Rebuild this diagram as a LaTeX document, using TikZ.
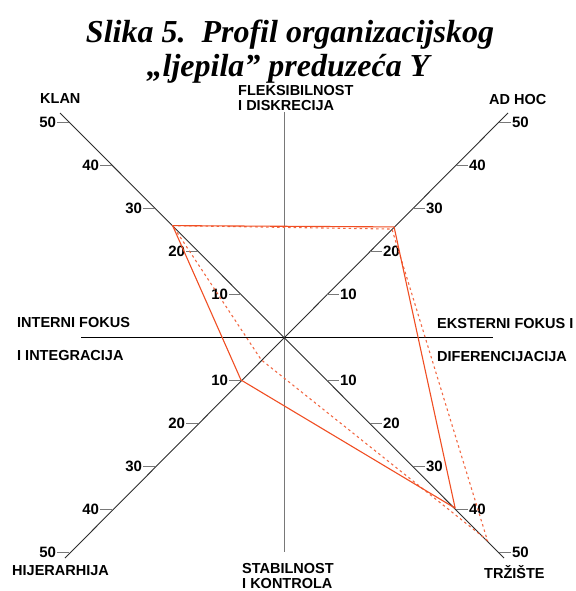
\documentclass[tikz,border=0pt]{standalone}
\usepackage{fontspec}
\setmainfont{Liberation Serif}
\setsansfont{Liberation Sans}
\usetikzlibrary{calc}
\definecolor{prof}{RGB}{240,78,35}
\definecolor{axisdark}{RGB}{45,45,45}
\definecolor{axisgray}{RGB}{120,120,120}
\begin{document}
\begin{tikzpicture}[x=1pt,y=-1pt,
  lbl/.style={font=\fontsize{14.5}{15}\selectfont\sffamily\bfseries,inner sep=0pt},
  num/.style={font=\fontsize{15}{16}\selectfont\sffamily\bfseries,inner sep=0.6pt},
  titlefont/.style={font=\fontsize{32}{34}\selectfont\bfseries\itshape,inner sep=0pt},
  diag/.style={draw=axisdark,line width=0.9pt},
  tickline/.style={draw=axisgray,line width=0.9pt},
  solidprof/.style={draw=prof,line width=1.1pt,line join=round},
  dashprof/.style={draw=prof!85!white,line width=1.1pt,dash pattern=on 2.5pt off 3pt}]
\useasboundingbox (0,0) rectangle (575,591);
\def\s{4.3}
\coordinate (C) at (284,337);
% axes
\coordinate (klanEnd) at ($(C)+(-224,-224)$);
\coordinate (adhocEnd) at ($(C)+(224,-224)$);
\coordinate (trzEnd) at ($(C)+(220,221)$);
\coordinate (hijEnd) at ($(C)+(-219,221)$);
\coordinate (hL) at (81,337);
\coordinate (hR) at (493,337);
\coordinate (vT) at (284,112);
\coordinate (vB) at (284,552);
\draw[draw=axisgray,line width=1pt] (vT) -- (vB);
\draw[draw=black,line width=0.9pt] (hL) -- (hR);
\draw[diag] (klanEnd) -- (trzEnd);
\draw[diag] (hijEnd) -- (adhocEnd);
% ticks
\foreach \v in {10,20,30,40,50}{
  \draw[tickline] ($(C)+({-\s*\v},{-\s*\v})$) -- ++(-12,0) node[num,anchor=east] (k\v) {\v};
  \draw[tickline] ($(C)+({\s*\v},{-\s*\v})$) -- ++(12,0) node[num,anchor=west] (a\v) {\v};
  \draw[tickline] ($(C)+({\s*\v},{\s*\v})$) -- ++(12,0) node[num,anchor=west] (t\v) {\v};
  \draw[tickline] ($(C)+({-\s*\v},{\s*\v})$) -- ++(-12,0) node[num,anchor=east] (h\v) {\v};
}
% profile points
\coordinate (sK) at ($(C)+({-\s*25.9},{-\s*25.9})$);
\coordinate (sA) at ($(C)+({\s*25.6},{-\s*25.6})$);
\coordinate (sT) at ($(C)+({\s*39.8},{\s*39.8})$);
\coordinate (sH) at ($(C)+({-\s*10},{\s*10})$);
\coordinate (dK) at ($(C)+({-\s*25.9},{-\s*25.9})$);
\coordinate (dA) at ($(C)+({\s*25.1},{-\s*25.1})$);
\coordinate (dT) at ($(C)+({\s*47.3},{\s*47.3})$);
\coordinate (dH) at ($(C)+({-\s*5.3},{\s*5.3})$);
\draw[dashprof] (dK) -- (dA) -- (dT) -- (dH) -- cycle;
\draw[solidprof] (sK) -- (sA) -- (sT) -- (sH) -- cycle;
% title
\node[titlefont,anchor=base] (title1) at (290,43) {Slika 5.\ \ Profil organizacijskog};
\node[titlefont,anchor=base] (title2) at (288,77) {„ljepila” preduzeća Y};
% labels
\node[lbl,anchor=base west] (klan) at (40,103) {KLAN};
\node[lbl,anchor=base west] (adhoc) at (489,105) {AD HOC};
\node[lbl,anchor=north west,align=left] (flex) at (238,85.6) {FLEKSIBILNOST\\I DISKRECIJA};
\node[lbl,anchor=north west,align=left] (stab) at (242,563.3) {STABILNOST\\I KONTROLA};
\node[lbl,anchor=base west] (int1) at (17,327) {INTERNI FOKUS};
\node[lbl,anchor=base west] (int2) at (17,360) {I INTEGRACIJA};
\node[lbl,anchor=base west] (ext1) at (437,328) {EKSTERNI FOKUS I};
\node[lbl,anchor=base west] (ext2) at (437,361) {DIFERENCIJACIJA};
\node[lbl,anchor=base west] (hij) at (12,575) {HIJERARHIJA};
\node[lbl,anchor=base west] (trz) at (484,578) {TRŽIŠTE};
\end{tikzpicture}
\end{document}
